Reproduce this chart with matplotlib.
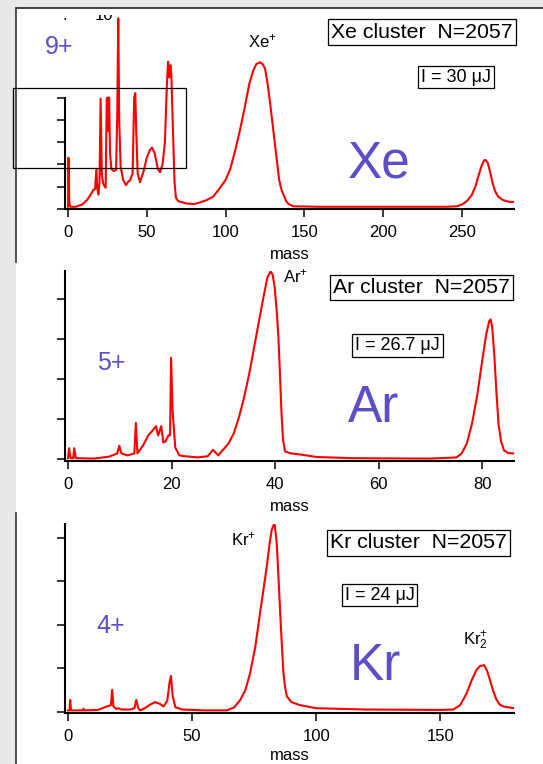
import matplotlib.pyplot as plt
import matplotlib.patches as patches
from matplotlib.transforms import Bbox, TransformedBbox

plt.rcParams['font.family'] = ['Liberation Sans', 'DejaVu Sans']
plt.rcParams['mathtext.fontset'] = 'custom'
plt.rcParams['mathtext.rm'] = 'Liberation Sans'
plt.rcParams['mathtext.it'] = 'Liberation Sans:italic'

# ---- data (mass, signal in arb. units) ----
xe_mass = [0, 0.3, 0.8, 1.5, 5, 9, 12, 14, 16, 17.2, 18.0, 18.6, 19.3, 20.0, 20.7, 21.5,
           22.5, 23.9, 24.6, 25.2, 25.6, 26.1, 26.7, 27.5, 29, 30.5, 31.2, 31.9, 32.5,
           33.4, 35, 36.8, 38, 39.5, 41, 42.0, 42.7, 43.3, 44.2, 45.7, 48, 50, 52, 53.3,
           55, 57, 58.4, 60, 61.5, 62.7, 63.5, 64.3, 65.0, 65.6, 66.2, 66.8, 67.6, 68.5,
           70, 75, 80, 84, 88, 92, 96, 100, 103, 106, 109, 112, 115, 117.5, 119.5, 121.8,
           123.5, 125, 126.5, 128, 129.5, 131, 132.5, 134, 135.5, 137, 138.5, 140, 143,
           160, 200, 240, 246.6, 250, 253, 256, 258.5, 260.5, 262.5, 264, 265, 266.5, 268,
           269.5, 271, 273, 276, 280, 283]
xe_sig = [0.1, 2.3, 0.3, 0.1, 0.1, 0.2, 0.4, 0.6, 0.85, 0.9, 1.8, 0.9, 0.65, 1.2, 4.95, 1.5,
          1.1, 0.95, 4.95, 5.0, 3.5, 5.0, 2.5, 1.8, 1.7, 1.75, 4.0, 8.55, 4.0,
          1.9, 1.3, 1.07, 1.2, 1.3, 1.6, 5.0, 5.2, 3.5, 1.6, 1.2, 1.7, 2.3, 2.65, 2.75,
          2.5, 1.8, 1.65, 2.0, 3.0, 5.5, 6.6, 5.9, 6.45, 6.0, 4.5, 3.1, 1.2, 0.5,
          0.35, 0.25, 0.22, 0.3, 0.4, 0.55, 0.9, 1.3, 1.8, 2.6, 3.5, 4.5, 5.6, 6.2, 6.5, 6.58,
          6.5, 6.3, 5.7, 4.9, 4.0, 3.1, 2.2, 1.3, 0.85, 0.6, 0.35, 0.22, 0.12,
          0.1, 0.1, 0.1, 0.12, 0.2, 0.35, 0.6, 1.0, 1.5, 1.95, 2.18, 2.2, 2.05, 1.6,
          1.15, 0.8, 0.55, 0.4, 0.32, 0.32]

ar_mass = [0, 0.2, 0.5, 1.0, 1.2, 1.5, 5, 8, 9.5, 9.9, 10.3, 11.5, 12.8, 13.1, 13.4, 14.5,
           15.5, 16.2, 17.0, 17.4, 18.0, 18.4, 18.8, 19.4, 19.7, 19.9, 20.2, 20.7, 21.5,
           22.5, 25, 27, 28, 29, 30, 31, 32, 33, 34, 35, 36, 37, 37.8, 38.5, 39.1, 39.5,
           39.9, 40.3, 40.6, 40.9, 41.2, 41.5, 41.9, 43, 45, 48, 55, 70, 75, 76, 77, 78,
           79, 80, 80.7, 81.3, 81.6, 81.9, 82.3, 82.7, 83.1, 83.6, 84.2, 85, 86]
ar_sig = [0.03, 0.28, 0.03, 0.03, 0.28, 0.03, 0.02, 0.07, 0.15, 0.34, 0.15, 0.1, 0.15, 0.91, 0.15, 0.35,
          0.6, 0.7, 0.83, 0.6, 0.83, 0.42, 0.45, 0.6, 0.6, 2.54, 1.2, 0.3, 0.1,
          0.08, 0.05, 0.08, 0.24, 0.1, 0.25, 0.4, 0.65, 1.05, 1.55, 2.15, 2.85, 3.55, 4.1, 4.55, 4.7, 4.62,
          4.3, 3.7, 3.1, 2.2, 1.2, 0.5, 0.2, 0.15, 0.12, 0.06, 0.03, 0.02, 0.05, 0.15, 0.4, 0.9,
          1.6, 2.5, 3.1, 3.45, 3.5, 3.3, 2.6, 1.7, 0.9, 0.45, 0.22, 0.16, 0.15]

kr_mass = [0, 0.6, 0.9, 1.2, 3, 6.0, 6.3, 6.6, 12, 15.7, 17.3, 17.8, 18.3, 19.5, 20.4, 21.5,
           25, 26.8, 27.5, 28.2, 29, 31, 33, 35.1, 37, 38.5, 40, 41.0, 41.5, 42.2, 43.3,
           46, 55, 64, 67, 69.4, 71.5, 73.4, 75.5, 77.4, 79, 80.1, 81.2, 82.1, 83.2, 84.1,
           84.8, 85.5, 86.2, 86.8, 87.5, 88.2, 90, 93.5, 100, 120, 150, 155.2, 158, 160.6,
           162.5, 164.6, 166, 167.6, 168.8, 170, 171.3, 172.7, 174, 175.4, 179.7]
kr_sig = [0.03, 0.03, 0.27, 0.03, 0.03, 0.03, 0.07, 0.03, 0.04, 0.12, 0.15, 0.5, 0.12, 0.06, 0.08, 0.05,
          0.05, 0.08, 0.27, 0.1, 0.03, 0.08, 0.16, 0.22, 0.18, 0.12, 0.25, 0.7, 0.82, 0.35, 0.1,
          0.05, 0.03, 0.03, 0.1, 0.27, 0.5, 0.89, 1.5, 2.27, 2.9, 3.33, 3.85, 4.18, 4.33, 3.88,
          3.1, 2.27, 1.5, 0.89, 0.55, 0.35, 0.22, 0.15, 0.08, 0.05, 0.04, 0.05, 0.15, 0.42,
          0.7, 0.96, 1.05, 1.07, 0.95, 0.73, 0.48, 0.27, 0.16, 0.12, 0.08]

W, H = 543, 764
purple = '#5a4fc8'


def fx(x):
    return x / W


def fy(y):
    return 1 - y / H


fig = plt.figure(figsize=(W / 100, H / 100), dpi=100, facecolor='#e8e8e8')

# white sheet + borders
fig.patches.append(patches.Rectangle((fx(16), 0), 1 - fx(16), fy(8), transform=fig.transFigure,
                                     facecolor='white', edgecolor='none', zorder=-10))
fig.add_artist(plt.Line2D([fx(16), 1], [fy(8), fy(8)], color='#222222', lw=1.2))
fig.add_artist(plt.Line2D([fx(16), fx(16)], [fy(8), fy(262)], color='#333333', lw=1.2))
fig.add_artist(plt.Line2D([fx(16), fx(16)], [fy(513), 0], color='#333333', lw=1.2))


def make_axes(top, bottom, xlim, ylim, xticks, yticks, spine_top=None, labelpad=5):
    ax = fig.add_axes([fx(65), fy(bottom), fx(514) - fx(65), fy(top) - fy(bottom)])
    ax.set_facecolor('none')
    ax.set_xlim(*xlim)
    ax.set_ylim(*ylim)
    for s in ['top', 'right']:
        ax.spines[s].set_visible(False)
    for s in ['left', 'bottom']:
        ax.spines[s].set_linewidth(1.5)
    if spine_top is not None:
        ax.spines['left'].set_bounds(ylim[0], spine_top)
    ax.set_xticks(xticks)
    ax.set_yticks(yticks)
    ax.set_yticklabels([])
    ax.tick_params(direction='out', length=6, width=1.1, labelsize=12, pad=5.5)
    ax.set_xlabel('mass', fontsize=12, labelpad=labelpad)
    return ax


ax1 = make_axes(17, 209, (-1.9, 283), (0, 8.61), [0, 50, 100, 150, 200, 250], [0, 1, 2, 3, 4, 5], spine_top=5)
ax1.plot(xe_mass, xe_sig, color='red', lw=1.5)

ax2 = make_axes(271, 461, (-0.58, 86.1), (-0.04, 4.71), [0, 20, 40, 60, 80], [0, 1, 2, 3, 4])
ax2.plot(ar_mass, ar_sig, color='red', lw=1.5)

ax3 = make_axes(524, 713, (-1.2, 179.7), (-0.03, 4.31), [0, 50, 100, 150], [0, 1, 2, 3, 4], labelpad=3)
ax3.plot(kr_mass, kr_sig, color='red', lw=1.5)

# overlay rectangle in the Xe panel
fig.patches.append(patches.Rectangle((fx(13), fy(168)), fx(186) - fx(13), fy(88) - fy(168),
                                     transform=fig.transFigure, facecolor='none',
                                     edgecolor='black', lw=0.9, zorder=5))

# clipped label fragments at the very top
clip = TransformedBbox(Bbox([[0, 0], [1, fy(15)]]), fig.transFigure)
for x, s in [(65, '.'), (104, '10')]:
    t = fig.text(fx(x), fy(20), s, fontsize=12, ha='center', va='baseline')
    t.set_clip_box(clip)
    t.set_clip_on(True)

# charge states
for x, y, s in [(59, 47, '9+'), (111, 363, '5+'), (111, 626, '4+')]:
    fig.text(fx(x), fy(y), s, fontsize=18, color=purple, ha='center', va='center')

# element names
for x, y, s in [(379, 177, 'Xe'), (374, 422, 'Ar'), (375, 680, 'Kr')]:
    fig.text(fx(x), fy(y), s, fontsize=37, color=purple, ha='center', va='baseline')

# ion labels
for x, y, s in [(262, 47, r'Xe$^{+}$'), (296, 282, r'Ar$^{+}$'), (244, 545, r'Kr$^{+}$'),
                (476, 645, r'Kr$^{+}_{2}$')]:
    fig.text(fx(x), fy(y), s, fontsize=12, ha='center', va='baseline')

# boxed annotations
box = dict(boxstyle='square,pad=0.15', facecolor='white', edgecolor='black', lw=0.9)
for x, y, s in [(421.5, 32, 'Xe cluster  N=2057'), (421.5, 287.5, 'Ar cluster  N=2057'),
                (418.5, 543, 'Kr cluster  N=2057')]:
    fig.text(fx(x), fy(y), s, fontsize=15.3, ha='center', va='center', bbox=box)
for x, y, s in [(456, 77, 'I = 30 μJ'), (397.5, 345.5, 'I = 26.7 μJ'), (379.5, 595, 'I = 24 μJ')]:
    fig.text(fx(x), fy(y), s, fontsize=13, ha='center', va='center', bbox=box)

fig.savefig('out.png', dpi=100, facecolor=fig.get_facecolor())
